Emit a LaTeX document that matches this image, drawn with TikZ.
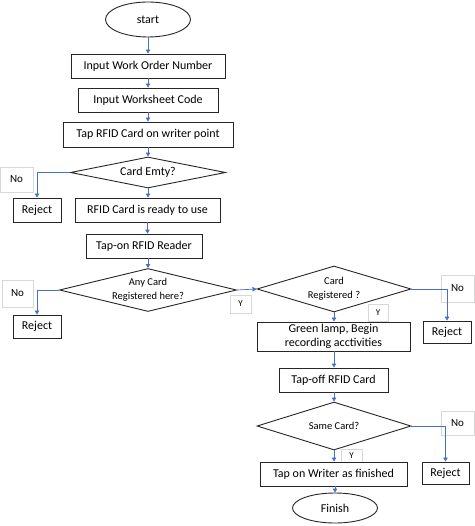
\documentclass[tikz,border=0pt]{standalone}
\usepackage{fontspec}
\setmainfont{Carlito}
\usetikzlibrary{shapes.geometric,arrows.meta}
\definecolor{arrowblue}{RGB}{68,114,196}
\definecolor{lblgray}{RGB}{215,215,215}
\tikzset{
  box/.style={draw=black!85,line width=0.9pt,rectangle,inner sep=0pt,align=center,font=\fontsize{12}{14.5}\selectfont},
  decision/.style={draw=black!85,line width=0.9pt,diamond,inner sep=0pt,align=center},
  term/.style={draw=black!85,line width=0.9pt,ellipse,inner sep=0pt,font=\fontsize{12}{14.5}\selectfont},
  flow/.style={draw=arrowblue,line width=0.7pt,-{Triangle[length=4pt,width=4.5pt]}},
  lbl/.style={draw=lblgray,line width=0.5pt,fill=white,rectangle,inner sep=0pt,font=\fontsize{11}{13}\selectfont}
}
\begin{document}
\begin{tikzpicture}[x=1pt,y=-1pt]
\useasboundingbox (0,0) rectangle (474,526);
% label boxes (behind)
\node[lbl,minimum width=33pt,minimum height=25pt] (no1) at (16.5,179.5) {No};
\node[lbl,minimum width=31pt,minimum height=27pt] (no2) at (17.5,293.5) {No};
\node[lbl,minimum width=21pt,minimum height=18pt,font=\fontsize{9}{11}\selectfont] (y1) at (240.5,304) {Y};
\node[lbl,minimum width=33pt,minimum height=27pt] (no3) at (457.5,288.5) {No};
\node[lbl,minimum width=20pt,minimum height=17pt,font=\fontsize{9}{11}\selectfont] (y2) at (378,313) {Y};
\node[lbl,minimum width=33pt,minimum height=24pt] (no4) at (457.5,423) {No};
\node[lbl,minimum width=21pt,minimum height=13pt,font=\fontsize{9}{11}\selectfont] (y3) at (351.5,456) {Y};

% main nodes
\node[term,minimum width=85pt,minimum height=35pt] (start) at (148,19.5) {start};
\node[box,minimum width=154pt,minimum height=24pt] (b1) at (148,66) {Input Work Order Number};
\node[box,minimum width=140pt,minimum height=24pt] (b2) at (148,100) {Input Worksheet Code};
\node[box,minimum width=170pt,minimum height=25pt] (b3) at (148,134.5) {Tap RFID Card on writer point};
\node[decision,aspect=5,minimum width=155pt,minimum height=31pt,font=\fontsize{12}{14}\selectfont] (d1) at (148,172.5) {Card Emty?};
\node[box,minimum width=48pt,minimum height=24pt] (r1) at (37,210) {Reject};
\node[box,minimum width=145pt,minimum height=24pt] (b4) at (147.5,210) {RFID Card is ready to use};
\node[box,minimum width=116pt,minimum height=24pt] (b5) at (144,246) {Tap-on RFID Reader};
\node[decision,aspect=4.1,minimum width=177pt,minimum height=43pt,font=\fontsize{10.5}{13.5}\selectfont] (d2) at (148,290) {Any Card\\Registered here?};
\node[box,minimum width=48pt,minimum height=23pt] (r2) at (37,326.5) {Reject};
\node[decision,aspect=3.35,minimum width=154pt,minimum height=46pt,font=\fontsize{10.5}{13.5}\selectfont] (d3) at (334,289) {Card\\Registered ?};
\node[box,minimum width=48pt,minimum height=22pt] (r3) at (447,332) {Reject};
\node[box,minimum width=153pt,minimum height=29pt] (b6) at (333.5,336.5) {Green lamp, Begin\\recording acctivities};
\node[box,minimum width=109pt,minimum height=24pt] (b7) at (333.5,380) {Tap-off RFID Card};
\node[decision,aspect=3.2,minimum width=154pt,minimum height=48pt,font=\fontsize{10.5}{13}\selectfont] (d4) at (334,426) {Same Card?};
\node[box,minimum width=47pt,minimum height=22pt] (r4) at (445.5,473) {Reject};
\node[box,minimum width=147pt,minimum height=24pt] (b8) at (333.5,474) {Tap on Writer as finished};
\node[term,minimum width=85pt,minimum height=30pt] (fin) at (335,508) {Finish};

% connectors
\draw[flow] (start) -- (b1);
\draw[flow] (b1) -- (b2);
\draw[flow] (b2) -- (b3);
\draw[flow] (b3) -- (d1);
\draw[flow] (d1) -- (d1.south |- b4.north);
\draw[flow] (d1.west) -| (r1.north);
\draw[flow] (b4.south) -- (b4.south |- b5.north);
\draw[flow] (b5.south -| d2.north) -- (d2.north);
\draw[flow] (d2.west) -| (r2.north);
\draw[flow] (d2.east) -- (d3.west);
\draw[flow] (d3.east) -| (r3.north);
\draw[flow] (d3.south) -- (d3.south |- b6.north);
\draw[flow] (b6.south -| d3.south) -- (d3.south |- b7.north);
\draw[flow] (b7.south -| d4.north) -- (d4.north);
\draw[flow] (d4.east) -| (r4.north);
\draw[flow] (d4.south) -- (d4.south |- b8.north);
\draw[flow] (b8.south -| fin.north) -- (fin.north);
\end{tikzpicture}
\end{document}
